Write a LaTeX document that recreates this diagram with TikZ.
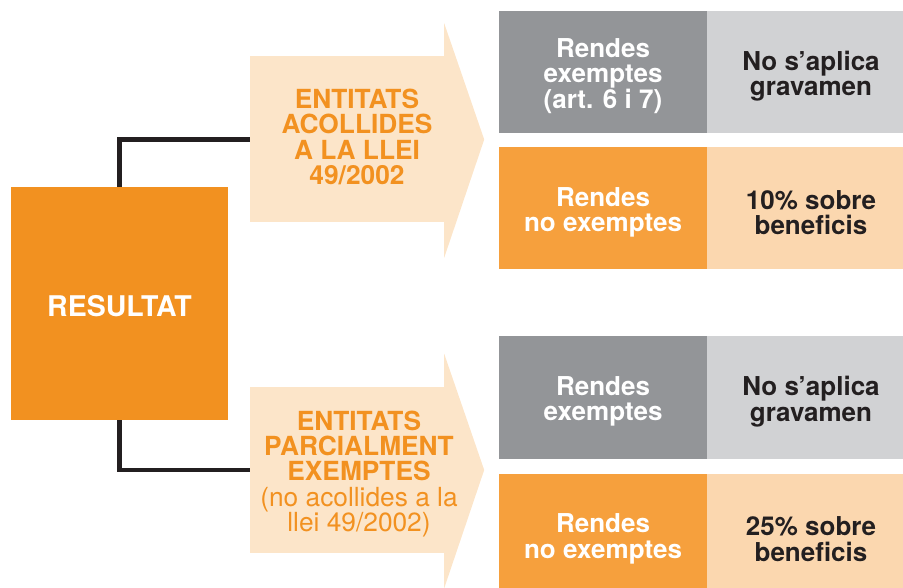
\documentclass[tikz,border=0pt]{standalone}
\usepackage{fontspec}
\setmainfont{TeX Gyre Heros}
\usepackage{xcolor}

\begin{document}
\begin{tikzpicture}[x=1pt, y=-1pt]

\definecolor{resorange}{RGB}{242, 145, 32}
\definecolor{cellorange}{RGB}{246, 160, 61}
\definecolor{cellpeach}{RGB}{251, 215, 175}
\definecolor{arrowpeach}{RGB}{252, 229, 201}
\definecolor{celldark}{RGB}{147, 149, 152}
\definecolor{celllight}{RGB}{209, 210, 212}
\definecolor{inkdark}{RGB}{35, 31, 32}

% Page frame
\useasboundingbox (0,0) rectangle (903,588);
\clip (0,0) rectangle (903,588);

\tikzset{
    cell/.style={
        rectangle, fill=#1, inner sep=0pt,
        minimum width=208pt, minimum height=122pt
    },
    celltext/.style={
        text=#1, align=center, inner sep=0pt, yshift=-4pt,
        font=\bfseries\fontsize{26}{25.5}\selectfont
    },
    arrowbody/.style={
        rectangle, fill=arrowpeach, inner sep=0pt,
        minimum width=194pt, minimum height=166pt
    },
    arrowtext/.style={
        text=resorange, align=center, inner sep=0pt,
        font=\bfseries\fontsize{26.3}{25.3}\selectfont
    },
    link/.style={
        draw=inkdark, line width=4.5pt
    }
}

% RESULTAT
\node[fill=resorange, minimum width=217pt, minimum height=233pt, inner sep=0pt,
      label={[text=white, yshift=-3pt, font=\bfseries\fontsize{28.5}{28}\selectfont]center:RESULTAT}]
      (resultat) at (119.5, 303.5) {};

% --- ARROWS ---
\node[arrowbody] (acollides) at (347, 139.5) {};
\fill[arrowpeach] ([yshift=33pt]acollides.north east) -- ([xshift=40pt]acollides.east)
    -- ([yshift=-35pt]acollides.south east) -- cycle;
\node[arrowtext] (acollidestxt) at (357, 137) {ENTITATS\\ACOLLIDES\\A LA LLEI\\49/2002};

\node[arrowbody] (parcials) at (347, 470) {};
\fill[arrowpeach] ([yshift=33pt]parcials.north east) -- ([xshift=40pt]parcials.east)
    -- ([yshift=-35pt]parcials.south east) -- cycle;
\node[arrowtext] (parcialstxt) at (359, 474) {ENTITATS\\PARCIALMENT\\EXEMPTES\\
    \mdseries(no acollides a la\\\mdseries llei 49/2002)};

% --- CONNECTORS ---
\draw[link] (resultat.north) |- (acollides.west);
\draw[link] (resultat.south) |- (parcials.west);

% --- CELLS ---
\node[cell=celldark, label={[celltext=white]center:Rendes\\exemptes\\(art. 6 i 7)}] (exemptesA) at (603, 72) {};
\node[cell=celllight, label={[celltext=inkdark]center:No s’aplica\\gravamen}] (gravamenA) at (811, 72) {};
\node[cell=cellorange, label={[celltext=white]center:Rendes\\no exemptes}] (noexemptesA) at (603, 208.5) {};
\node[cell=cellpeach, label={[celltext=inkdark]center:10\% sobre\\beneficis}] (beneficisA) at (811, 208.5) {};

\node[cell=celldark, label={[celltext=white]center:Rendes\\exemptes}] (exemptesB) at (603, 397.5) {};
\node[cell=celllight, label={[celltext=inkdark]center:No s’aplica\\gravamen}] (gravamenB) at (811, 397.5) {};
\node[cell=cellorange, label={[celltext=white]center:Rendes\\no exemptes}] (noexemptesB) at (603, 535) {};
\node[cell=cellpeach, label={[celltext=inkdark]center:25\% sobre\\beneficis}] (beneficisB) at (811, 535) {};

\end{tikzpicture}
\end{document}
